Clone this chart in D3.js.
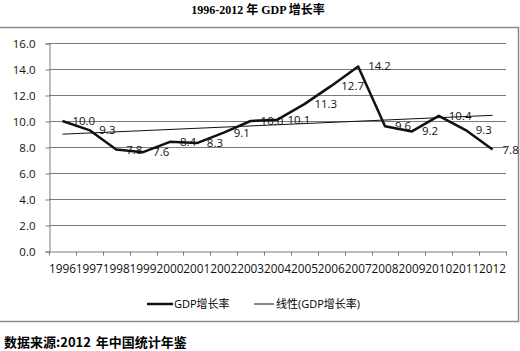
<!DOCTYPE html>
<html>
<head>
<meta charset="utf-8">
<script src="https://cdn.jsdelivr.net/npm/d3@7"></script>
<style>
  body { margin: 0; background: #fff; }
  text { font-family: "Open Sans", "Noto Sans CJK SC", sans-serif; }
</style>
</head>
<body>
<div class="chart"></div>
<script>
const years = ['1996', '1997', '1998', '1999', '2000', '2001', '2002', '2003', '2004',
  '2005', '2006', '2007', '2008', '2009', '2010', '2011', '2012'];
const growth = [10.0, 9.3, 7.8, 7.6, 8.4, 8.3, 9.1, 10.0, 10.1,
  11.3, 12.7, 14.2, 9.6, 9.2, 10.4, 9.3, 7.8];
const yTicks = [0, 2, 4, 6, 8, 10, 12, 14, 16];
const seriesName = 'GDP增长率';
const trendName = '线性(GDP增长率)';
const title = '1996-2012 年 GDP 增长率';
const source = '数据来源:2012 年中国统计年鉴';

const data = years.map((y, i) => ({ year: y, value: growth[i] }));

const W = 520, H = 351;
const svg = d3.select('.chart')
  .append('svg')
  .attr('width', W)
  .attr('height', H);

// title
svg.append('text')
  .attr('x', 258)
  .attr('y', 14)
  .attr('text-anchor', 'middle')
  .style('font-family', '"Liberation Serif", "Noto Sans CJK SC", serif')
  .style('font-weight', 'bold')
  .style('font-size', '12px')
  .text(title);

// chart frame
svg.append('rect')
  .attr('x', -2)
  .attr('y', 27.5)
  .attr('width', 520.5)
  .attr('height', 294)
  .attr('fill', 'none')
  .attr('stroke', '#8a8a8a')
  .attr('stroke-width', 1.5);

const xScale = d3.scaleBand()
  .domain(years)
  .range([49, 506])
  .padding(0);

const yScale = d3.scaleLinear()
  .domain([0, 16])
  .range([251, 43]);

const cx = d => xScale(d.year) + xScale.bandwidth() / 2;

// gridlines
svg.append('g')
  .selectAll('line')
  .data(yTicks.filter(t => t > 0))
  .enter()
  .append('line')
  .attr('x1', 49)
  .attr('x2', 506)
  .attr('y1', d => Math.round(yScale(d)) + 0.5)
  .attr('y2', d => Math.round(yScale(d)) + 0.5)
  .attr('stroke', '#7a7a7a')
  .attr('stroke-width', 1);

// y axis
const yAxis = d3.axisLeft(yScale)
  .tickValues(yTicks)
  .tickFormat(d3.format('.1f'))
  .tickSize(4)
  .tickPadding(10);

const gy = svg.append('g')
  .attr('transform', 'translate(49.5, 0.5)')
  .call(yAxis);
gy.select('.domain').attr('stroke', '#7a7a7a');
gy.selectAll('.tick line').attr('stroke', '#7a7a7a');
gy.selectAll('.tick text')
  .style('font-size', '11.5px')
  .attr('fill', '#111');

// x axis: labels centred, tick marks on category boundaries
const xAxis = d3.axisBottom(xScale)
  .tickSize(0)
  .tickPadding(13);

const gx = svg.append('g')
  .attr('transform', `translate(0, ${Math.round(yScale(0)) + 0.5})`)
  .call(xAxis);
gx.select('.domain').attr('stroke', '#7a7a7a');
gx.selectAll('.tick text')
  .style('font-size', '11.8px')
  .attr('fill', '#111');

gx.selectAll('.boundary')
  .data(years.concat(['end']))
  .enter()
  .append('line')
  .attr('class', 'boundary')
  .attr('x1', d => Math.round(d === 'end' ? xScale.range()[1] : xScale(d)) + 0.5)
  .attr('x2', d => Math.round(d === 'end' ? xScale.range()[1] : xScale(d)) + 0.5)
  .attr('y1', 0)
  .attr('y2', 4)
  .attr('stroke', '#7a7a7a');

// linear trend (least squares over the series)
const n = data.length;
const mx = d3.mean(data, (d, i) => i);
const my = d3.mean(data, d => d.value);
const slope = d3.sum(data, (d, i) => (i - mx) * (d.value - my)) /
  d3.sum(data, (d, i) => (i - mx) * (i - mx));
const icpt = my - slope * mx;
const trend = [data[0], data[n - 1]].map(d => ({
  year: d.year,
  value: icpt + slope * years.indexOf(d.year),
}));

const line = d3.line()
  .x(cx)
  .y(d => yScale(d.value));

svg.append('path')
  .datum(data)
  .attr('d', line)
  .attr('fill', 'none')
  .attr('stroke', '#111')
  .attr('stroke-width', 2.5)
  .attr('stroke-linejoin', 'round');

svg.append('path')
  .datum(trend)
  .attr('d', line)
  .attr('fill', 'none')
  .attr('stroke', '#111')
  .attr('stroke-width', 1);

// data labels, to the right of each point
svg.append('g')
  .selectAll('text')
  .data(data)
  .enter()
  .append('text')
  .attr('x', d => cx(d) + 10)
  .attr('y', d => yScale(d.value))
  .attr('dy', '0.35em')
  .style('font-size', '11.5px')
  .attr('fill', '#111')
  .text(d => d3.format('.1f')(d.value));

// legend
const legend = svg.append('g');
legend.append('line')
  .attr('x1', 147).attr('x2', 173)
  .attr('y1', 304).attr('y2', 304)
  .attr('stroke', '#111')
  .attr('stroke-width', 2.5);
legend.append('text')
  .attr('x', 174).attr('y', 304)
  .attr('dy', '0.35em')
  .style('font-size', '11px')
  .text(seriesName);
legend.append('line')
  .attr('x1', 254).attr('x2', 274)
  .attr('y1', 304).attr('y2', 304)
  .attr('stroke', '#111')
  .attr('stroke-width', 1);
legend.append('text')
  .attr('x', 276).attr('y', 304)
  .attr('dy', '0.35em')
  .style('font-size', '11px')
  .text(trendName);

// source note
svg.append('text')
  .attr('x', 4)
  .attr('y', 347)
  .style('font-family', '"Noto Sans CJK SC", sans-serif')
  .style('font-weight', 'bold')
  .style('font-size', '13px')
  .style('word-spacing', '2px')
  .text(source);
</script>
</body>
</html>
